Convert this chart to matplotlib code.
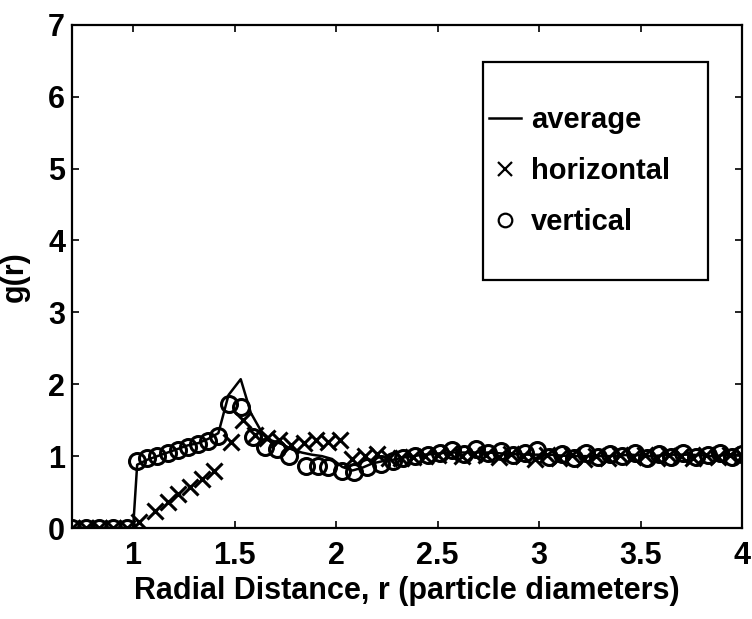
"""
g(r) radial distribution: average vs horizontal vs vertical
"""
import matplotlib
matplotlib.use("Agg")
import matplotlib.pyplot as plt
import matplotlib.patches as mpatches

# average curve
avg_r = [0.70, 0.80, 0.90, 1.00, 1.02, 1.07, 1.12, 1.17, 1.22, 1.27, 1.32, 1.37,
         1.42, 1.47, 1.53, 1.58, 1.63, 1.68, 1.73, 1.78, 1.83, 1.88, 1.93, 1.98,
         2.03, 2.08, 2.13, 2.18, 2.23, 2.28, 2.33, 2.38, 2.43, 2.48, 2.55, 2.65,
         2.75, 2.85, 2.95, 3.05, 3.15, 3.25, 3.35, 3.45, 3.55, 3.65, 3.75, 3.85,
         3.95, 4.00]
avg_g = [0.00, 0.00, 0.00, 0.00, 0.88, 0.95, 1.00, 1.05, 1.10, 1.15, 1.18, 1.24,
         1.32, 1.85, 2.07, 1.60, 1.35, 1.22, 1.17, 1.10, 1.05, 1.02, 1.00, 0.96,
         0.85, 0.80, 0.84, 0.90, 0.93, 0.95, 0.98, 1.00, 1.02, 1.03, 1.05, 1.05,
         1.05, 1.03, 1.02, 1.02, 1.00, 1.00, 1.00, 1.02, 1.00, 1.02, 1.02, 1.00,
         1.02, 1.02]

# horizontal direction
hor_r = [0.70, 0.77, 0.83, 0.90, 0.97, 1.03, 1.11, 1.17, 1.22, 1.28, 1.34, 1.40,
         1.48, 1.54, 1.60, 1.66, 1.72, 1.78, 1.84, 1.90, 1.96, 2.02, 2.08, 2.14,
         2.20, 2.26, 2.32, 2.38, 2.44, 2.50, 2.56, 2.62, 2.68, 2.74, 2.80, 2.86,
         2.92, 2.98, 3.04, 3.10, 3.16, 3.22, 3.28, 3.34, 3.40, 3.46, 3.52, 3.58,
         3.64, 3.70, 3.76, 3.82, 3.88, 3.94, 4.00]
hor_g = [0.00, 0.00, 0.00, 0.00, 0.00, 0.08, 0.24, 0.36, 0.47, 0.57, 0.68, 0.79,
         1.20, 1.50, 1.30, 1.25, 1.22, 1.16, 1.18, 1.22, 1.20, 1.22, 0.96, 1.00,
         1.03, 0.98, 0.97, 0.99, 1.00, 1.02, 1.04, 1.00, 1.03, 1.01, 0.99, 1.03,
         1.00, 0.96, 1.02, 0.98, 1.01, 0.96, 1.00, 0.98, 1.02, 0.99, 1.01, 0.98,
         1.02, 1.00, 0.98, 1.01, 0.99, 1.02, 1.00]

# vertical direction
ver_r = [0.70, 0.77, 0.83, 0.90, 0.97, 1.02, 1.07, 1.12, 1.17, 1.22, 1.27, 1.32,
         1.37, 1.42, 1.47, 1.53, 1.59, 1.65, 1.71, 1.77, 1.85, 1.91, 1.96, 2.03,
         2.09, 2.15, 2.22, 2.28, 2.33, 2.39, 2.45, 2.51, 2.57, 2.63, 2.69, 2.75,
         2.81, 2.87, 2.93, 2.99, 3.05, 3.11, 3.17, 3.23, 3.29, 3.35, 3.41, 3.47,
         3.53, 3.59, 3.65, 3.71, 3.77, 3.83, 3.89, 3.95, 4.00]
ver_g = [0.00, 0.00, 0.00, 0.00, 0.00, 0.93, 0.98, 1.00, 1.04, 1.08, 1.13, 1.17,
         1.21, 1.28, 1.72, 1.68, 1.26, 1.12, 1.10, 1.00, 0.86, 0.86, 0.85, 0.79,
         0.78, 0.85, 0.89, 0.93, 0.98, 1.00, 1.02, 1.05, 1.08, 1.03, 1.10, 1.04,
         1.07, 1.02, 1.04, 1.08, 0.99, 1.03, 0.97, 1.04, 0.99, 1.03, 1.00, 1.04,
         0.98, 1.03, 0.99, 1.04, 0.99, 1.02, 1.05, 0.99, 1.03]

plt.rcParams["font.family"] = ["Liberation Sans", "DejaVu Sans"]
plt.rcParams["font.weight"] = "bold"

fig = plt.figure(figsize=(7.52, 6.19), dpi=100)
ax = fig.add_axes([0.096, 0.147, 0.891, 0.813])

ax.plot(avg_r, avg_g, "-", color="black", lw=1.8, label="average")
ax.plot(hor_r, hor_g, "x", color="black", ms=12, mew=2.2, label="horizontal")
ax.plot(ver_r, ver_g, "o", color="black", mfc="none", ms=11.5, mew=2.2,
        label="vertical")

ax.set_xlim(0.7, 4.0)
ax.set_ylim(0, 7)
ax.set_xticks([1, 1.5, 2, 2.5, 3, 3.5, 4])
ax.set_xticklabels(["1", "1.5", "2", "2.5", "3", "3.5", "4"])
ax.set_yticks(range(0, 8))
ax.tick_params(direction="in", length=5, width=1.2, top=True, right=True,
               labelsize=22)
ax.tick_params(axis="x", pad=9)
ax.tick_params(axis="y", pad=5)
for spine in ax.spines.values():
    spine.set_linewidth(1.6)

ax.set_xlabel("Radial Distance, r (particle diameters)", fontsize=22,
              fontweight="bold", labelpad=4)
ax.set_ylabel("g(r)", fontsize=22, fontweight="bold", labelpad=13)

# legend box drawn separately (tall padding top/bottom, tight on the left)
ax.add_patch(mpatches.Rectangle((0.613, 0.493), 0.336, 0.433,
                                transform=ax.transAxes, fill=True,
                                facecolor="white", edgecolor="black",
                                lw=1.6, zorder=4))
leg = ax.legend(loc="upper left", bbox_to_anchor=(0.622, 0.838), fontsize=21,
                frameon=False, borderpad=0.0, labelspacing=0.78,
                handlelength=1.1, handletextpad=0.35, borderaxespad=0.0,
                markerscale=0.85)
leg.set_zorder(5)
for h in leg.legend_handles:
    h.set_markeredgewidth(1.6)

plt.savefig("out.png", dpi=100)
plt.close()
print("Saved: out.png")
